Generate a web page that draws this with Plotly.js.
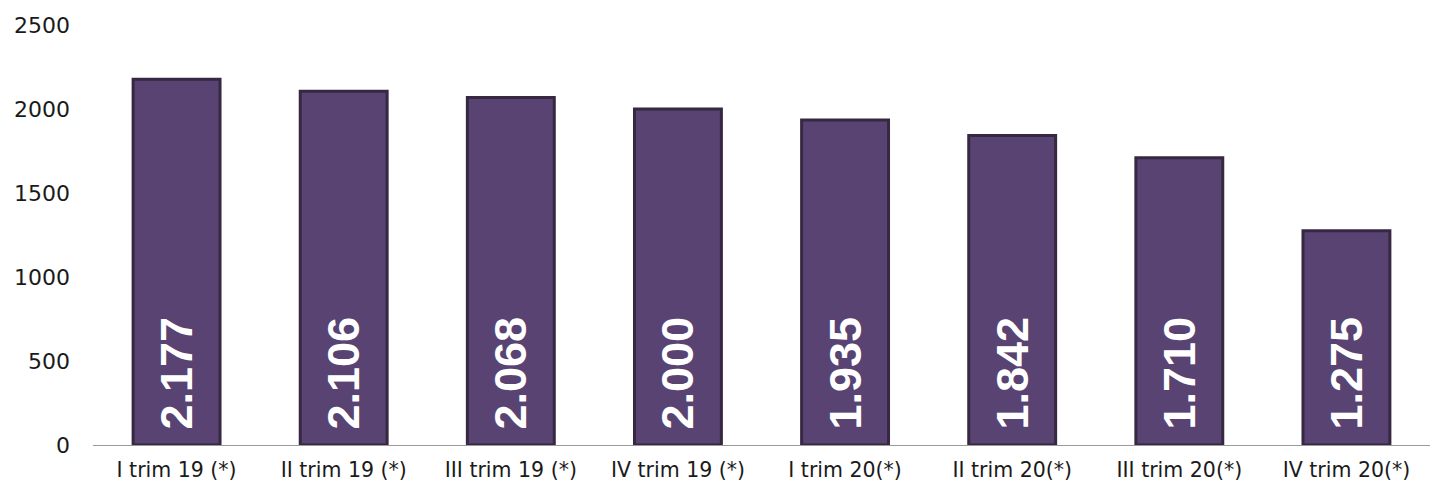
<!DOCTYPE html>
<html>
<head>
<meta charset="utf-8">
<script src="https://cdn.plot.ly/plotly-3.0.1.min.js"></script>
<style>html,body{margin:0;padding:0;background:#fff;}#chart{width:1433px;height:490px;}</style>
</head>
<body>
<div id="chart"></div>
<script>
const categories = ["I trim 19 (*)", "II trim 19 (*)", "III trim 19 (*)", "IV trim 19 (*)", "I trim 20(*)", "II trim 20(*)", "III trim 20(*)", "IV trim 20(*)"];
const values = [2177, 2106, 2068, 2000, 1935, 1842, 1710, 1275];
const yTicks = [0, 500, 1000, 1500, 2000, 2500];

const trace = {
  type: 'bar',
  x: categories,
  y: values,
  texttemplate: '\u00a0%{y:,d}',
  textposition: 'inside',
  insidetextanchor: 'start',
  textangle: -90,
  constraintext: 'none',
  textfont: {family: 'Liberation Sans, Arial, sans-serif', size: 45, color: '#ffffff', weight: 'bold'},
  marker: {color: '#584373', line: {color: '#362841', width: 3}},
  hoverinfo: 'skip'
};

const layout = {
  width: 1433, height: 490,
  margin: {l: 93, r: 3, t: 25, b: 45},
  paper_bgcolor: '#ffffff', plot_bgcolor: '#ffffff',
  separators: ',.',
  bargap: 0.48,
  showlegend: false,
  font: {family: 'DejaVu Sans, sans-serif', color: '#1a1a1a'},
  xaxis: {
    type: 'category',
    showline: true, linecolor: '#9a9a9a', linewidth: 1,
    ticks: '', showgrid: false, zeroline: false,
    tickfont: {size: 20.5, family: 'DejaVu Sans, sans-serif', color: '#1a1a1a'},
    ticklabelstandoff: 6
  },
  yaxis: {
    range: [0, 2500],
    tickvals: yTicks,
    ticktext: yTicks.map(String),
    showline: false, showgrid: false, zeroline: false, ticks: '',
    tickfont: {size: 22, family: 'DejaVu Sans, sans-serif', color: '#1a1a1a'},
    ticklabelstandoff: 22
  }
};

Plotly.newPlot('chart', [trace], layout, {displayModeBar: false, staticPlot: true});
</script>
</body>
</html>
